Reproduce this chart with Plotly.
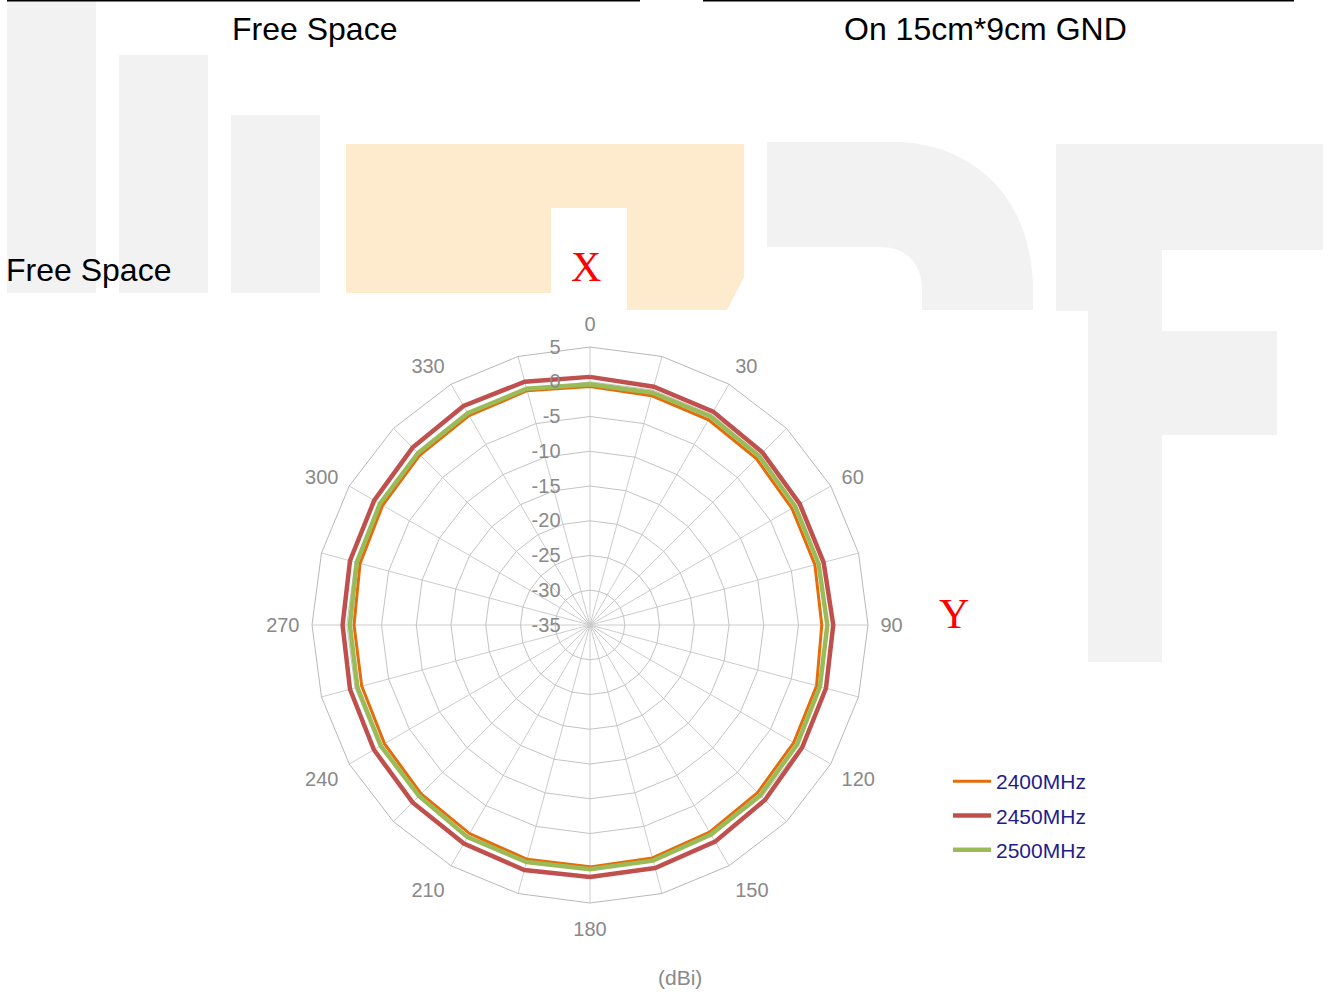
import plotly.graph_objects as go

W, H = 1329, 994

# ---------------- data ----------------
angles = [str(a) for a in range(0, 360, 15)]
angle_labels = [str(a) if a % 30 == 0 else "" for a in range(0, 360, 15)]
radial_ticks = [5, 0, -5, -10, -15, -20, -25, -30, -35]

gain_2400 = [-0.7, -0.85, -0.9, -1.15, -1.45, -1.5, -1.65, -1.25, -1.15, -0.9, -0.6, -0.3,
             -0.2, -0.1, -0.35, -0.65, -0.85, -1.0, -1.05, -0.75, -0.55, -0.4, -0.2, -0.1]
gain_2450 = [0.7, 0.5, 0.45, 0.1, -0.15, -0.2, 0.0, 0.15, 0.25, 0.6, 1.0, 1.2,
             1.25, 1.5, 1.3, 1.1, 0.9, 0.75, 0.6, 0.75, 0.85, 1.1, 1.4, 1.25]
gain_2500 = [-0.35, -0.4, -0.35, -0.6, -0.9, -0.95, -0.85, -0.75, -0.6, -0.35, -0.2, 0.1,
             0.15, 0.3, 0.25, -0.2, -0.25, -0.35, -0.45, -0.25, -0.1, 0.0, 0.2, 0.2]

series = [
    ("2400MHz", gain_2400, "#E46C0A", 3),
    ("2450MHz", gain_2450, "#C0504D", 4.5),
    ("2500MHz", gain_2500, "#9BBB59", 4.5),
]

# ---------------- helpers (pixel -> paper) ----------------
def px(x):
    return x / W

def py(y):
    return 1 - y / H

def path(cmds):
    out = []
    for c in cmds:
        if isinstance(c, str):
            out.append(c)
        else:
            out.append(f"{px(c[0]):.5f},{py(c[1]):.5f}")
    return " ".join(out)

fig = go.Figure()

for i, (name, vals, color, width) in enumerate(series):
    fig.add_trace(go.Scatterpolar(
        r=vals + vals[:1],
        theta=angles + angles[:1],
        mode="lines",
        name=name,
        legendgroup=name,
        line=dict(color=color, width=width),
    ))

GRAY = "#F2F2F2"
ORANGE = "#FEEBCD"
shapes = []

def rect(x0, y0, x1, y1, color):
    shapes.append(dict(type="rect", xref="paper", yref="paper",
                       x0=px(x0), x1=px(x1), y0=py(y1), y1=py(y0),
                       fillcolor=color, line=dict(width=0), layer="below"))

def poly(cmds, color):
    shapes.append(dict(type="path", xref="paper", yref="paper", path=path(cmds),
                       fillcolor=color, line=dict(width=0), layer="below"))

# watermark
rect(7, 0, 96, 293, GRAY)
rect(119, 55, 208, 293, GRAY)
rect(231, 115, 320, 293, GRAY)
poly(["M", (346, 144), "L", (744, 144), "L", (744, 277), "L", (727, 310), "L", (627, 310),
      "L", (627, 208), "L", (551, 208), "L", (551, 293), "L", (346, 293), "Z"], ORANGE)
poly(["M", (767, 142), "L", (893, 142), "C", (975, 142), (1033, 200), (1033, 290),
      "L", (1033, 310), "L", (922, 310), "L", (922, 290), "C", (922, 262), (905, 247), (880, 247),
      "L", (767, 247), "Z"], GRAY)
poly(["M", (1056, 144), "L", (1323, 144), "L", (1323, 250), "L", (1162, 250), "L", (1162, 331),
      "L", (1277, 331), "L", (1277, 435), "L", (1162, 435), "L", (1162, 662), "L", (1088, 662),
      "L", (1088, 311), "L", (1056, 311), "Z"], GRAY)
# top rules
shapes.append(dict(type="line", xref="paper", yref="paper", x0=px(7), x1=px(640), y0=py(0.8), y1=py(0.8),
                   line=dict(color="#000000", width=1.5), layer="above"))
shapes.append(dict(type="line", xref="paper", yref="paper", x0=px(703), x1=px(1294), y0=py(0.8), y1=py(0.8),
                   line=dict(color="#000000", width=1.5), layer="above"))

annotations = []

def text(x, y, s, size, color="#000000", family="Liberation Sans, Arial, sans-serif", xanchor="center"):
    annotations.append(dict(x=px(x), y=py(y), xref="paper", yref="paper", text=s, showarrow=False,
                            xanchor=xanchor, yanchor="middle",
                            font=dict(size=size, color=color, family=family)))

text(314, 29, "Free Space", 32)
text(986, 29, "On 15cm*9cm GND", 32)
text(4, 270, "Free Space", 32, xanchor="left")
text(586, 267, "X", 42, color="#FF0000", family="Liberation Serif, Times New Roman, serif")
text(954, 614, "Y", 42, color="#FF0000", family="Liberation Serif, Times New Roman, serif")
text(680, 977, "(dBi)", 21, color="#898989")

cx, cy, R = 590, 625, 278
fig.update_layout(
    width=W, height=H,
    margin=dict(l=0, r=0, t=0, b=0),
    paper_bgcolor="white",
    plot_bgcolor="white",
    font=dict(family="Liberation Sans, Arial, sans-serif", color="#898989"),
    polar=dict(
        domain=dict(x=[px(cx - R), px(cx + R)], y=[py(cy + R), py(cy - R)]),
        bgcolor="rgba(0,0,0,0)",
        gridshape="linear",
        angularaxis=dict(
            type="category",
            categoryarray=angles,
            direction="clockwise",
            rotation=90,
            tickmode="array",
            tickvals=angles,
            ticktext=angle_labels,
            ticks="outside",
            ticklen=8,
            tickcolor="rgba(0,0,0,0)",
            showline=True,
            linecolor="#B8B8B8",
            linewidth=1,
            gridcolor="#CCCCCC",
            gridwidth=1,
            tickfont=dict(size=20, color="#898989"),
        ),
        radialaxis=dict(
            range=[-35, 5],
            tickmode="array",
            tickvals=radial_ticks,
            ticktext=[str(v) for v in radial_ticks],
            angle=90,
            tickangle=90,
            side="counterclockwise",
            ticks="outside",
            ticklen=22,
            tickcolor="rgba(0,0,0,0)",
            showline=False,
            gridcolor="#C4C4C4",
            gridwidth=1,
            tickfont=dict(size=20, color="#898989"),
        ),
    ),
    legend=dict(
        x=px(948), y=py(761), xanchor="left", yanchor="top",
        font=dict(size=21, color="#1F1D8C"),
        bgcolor="rgba(0,0,0,0)",
        tracegroupgap=4,
        itemwidth=38,
    ),
    shapes=shapes,
    annotations=annotations,
)

fig.write_html("out.html", config={"displayModeBar": False},
               post_script="document.body.style.margin='0';document.body.style.overflow='hidden';")
